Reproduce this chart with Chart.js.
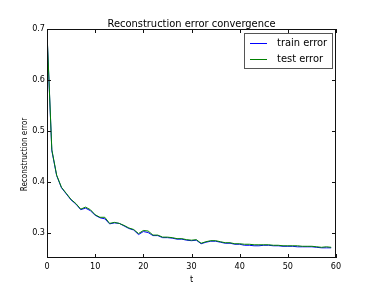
<!DOCTYPE html>
<html><head><meta charset="utf-8">
<script src="https://cdn.jsdelivr.net/npm/chart.js@4"></script>
<style>html,body{margin:0;padding:0;background:#fff}#wrap{width:374px;height:287px}</style>
</head><body><div id="wrap"><canvas id="c" width="374" height="287"></canvas></div>
<script>
const t = Array.from({length:60},(_,i)=>i);
const trainError = [0.692,0.461,0.412,0.388,0.376,0.364,0.356,0.345,0.348,0.343,0.334,0.329,0.327,0.317,0.319,0.318,0.313,0.308,0.305,0.296,0.302,0.300,0.294,0.294,0.290,0.290,0.289,0.287,0.287,0.285,0.284,0.285,0.278,0.281,0.283,0.283,0.281,0.279,0.279,0.277,0.277,0.275,0.275,0.274,0.274,0.275,0.275,0.274,0.274,0.273,0.273,0.273,0.272,0.272,0.272,0.272,0.271,0.270,0.270,0.270];
const testError = [0.694,0.463,0.413,0.389,0.377,0.365,0.357,0.346,0.350,0.345,0.335,0.330,0.330,0.318,0.320,0.318,0.314,0.309,0.306,0.298,0.304,0.303,0.295,0.295,0.291,0.291,0.290,0.288,0.288,0.286,0.285,0.286,0.279,0.282,0.284,0.284,0.282,0.280,0.280,0.278,0.278,0.277,0.277,0.276,0.276,0.276,0.276,0.275,0.275,0.274,0.274,0.274,0.274,0.273,0.273,0.273,0.272,0.271,0.272,0.271];
const xTicks = [0,10,20,30,40,50,60];
const yTicks = [0.3,0.4,0.5,0.6,0.7];
const titleText = 'Reconstruction error convergence';
const xLabel = 't';
const yLabel = 'Reconstruction error';

const FONT = '"DejaVu Sans Condensed", "DejaVu Sans"';

const deco = {
  id:'deco',
  afterDraw(chart){
    const ctx = chart.ctx, a = chart.chartArea;
    const xs = chart.scales.x, ys = chart.scales.y;
    ctx.save();
    ctx.strokeStyle = '#111'; ctx.lineWidth = 1;
    ctx.strokeRect(Math.round(a.left)+0.5, Math.round(a.top)+0.5, Math.round(a.right-a.left)-1, Math.round(a.bottom-a.top)-1);
    ctx.beginPath();
    xTicks.forEach(v=>{const px=Math.round(xs.getPixelForValue(v))+0.5;
      ctx.moveTo(px,a.bottom); ctx.lineTo(px,a.bottom-4);
      ctx.moveTo(px,a.top); ctx.lineTo(px,a.top+4);});
    yTicks.forEach(v=>{const py=Math.round(ys.getPixelForValue(v))+0.5;
      ctx.moveTo(a.left,py); ctx.lineTo(a.left+4,py);
      ctx.moveTo(a.right,py); ctx.lineTo(a.right-4,py);});
    ctx.stroke();
    ctx.fillStyle='#000';
    // title
    ctx.font = '11px '+FONT; ctx.textAlign='center'; ctx.textBaseline='alphabetic';
    ctx.fillText(titleText,(a.left+a.right)/2,a.top-2);
    // x label
    ctx.font = '9px '+FONT;
    ctx.fillText(xLabel,(a.left+a.right)/2,281.5);
    // y label
    ctx.save(); ctx.translate(27,154.5); ctx.rotate(-Math.PI/2);
    ctx.font = '8px '+FONT; ctx.fillText(yLabel,0,0); ctx.restore();
    // legend
    const lx=244.5, ly=33.5, lw=88, lh=35;
    ctx.fillStyle='#fff'; ctx.fillRect(lx,ly,lw,lh);
    ctx.strokeStyle='#555'; ctx.strokeRect(lx,ly,lw,lh);
    ctx.font='11px '+FONT; ctx.textAlign='left'; ctx.textBaseline='middle';
    chart.data.datasets.forEach((ds,i)=>{
      const yy = 43 + i*16;
      ctx.strokeStyle = ds.borderColor; ctx.lineWidth=1;
      ctx.beginPath(); ctx.moveTo(250,yy+0.5); ctx.lineTo(267,yy+0.5); ctx.stroke();
      ctx.fillStyle='#000'; ctx.fillText(ds.label,277,yy);
    });
    ctx.restore();
  }
};

new Chart(document.getElementById('c'),{
  type:'line',
  data:{labels:t,datasets:[
    {label:'train error',data:trainError.map((v,i)=>({x:t[i],y:v})),borderColor:'#0000ff',borderWidth:1,pointRadius:0,tension:0,order:2},
    {label:'test error',data:testError.map((v,i)=>({x:t[i],y:v})),borderColor:'#008000',borderWidth:1,pointRadius:0,tension:0,order:1}
  ]},
  options:{
    responsive:false,animation:false,
    layout:{padding:{top:29,right:38,left:0,bottom:0}},
    plugins:{legend:{display:false},title:{display:false},tooltip:{enabled:false}},
    scales:{
      x:{type:'linear',min:0,max:60,
        afterFit(s){s.height=29;},
        afterBuildTicks(s){s.ticks=xTicks.map(v=>({value:v}));},
        grid:{display:false,drawTicks:false},border:{display:false},
        ticks:{color:'#000',font:{family:'DejaVu Sans Condensed',size:9},padding:3,maxRotation:0,autoSkip:false}
      },
      y:{type:'linear',min:0.25,max:0.7,
        afterFit(s){s.width=47;},
        afterBuildTicks(s){s.ticks=yTicks.map(v=>({value:v}));},
        grid:{display:false,drawTicks:false},border:{display:false},
        ticks:{color:'#000',font:{family:'DejaVu Sans Condensed',size:9},padding:2,autoSkip:false,callback:v=>v.toFixed(1)}
      }
    }
  },
  plugins:[deco]
});
</script></body></html>
